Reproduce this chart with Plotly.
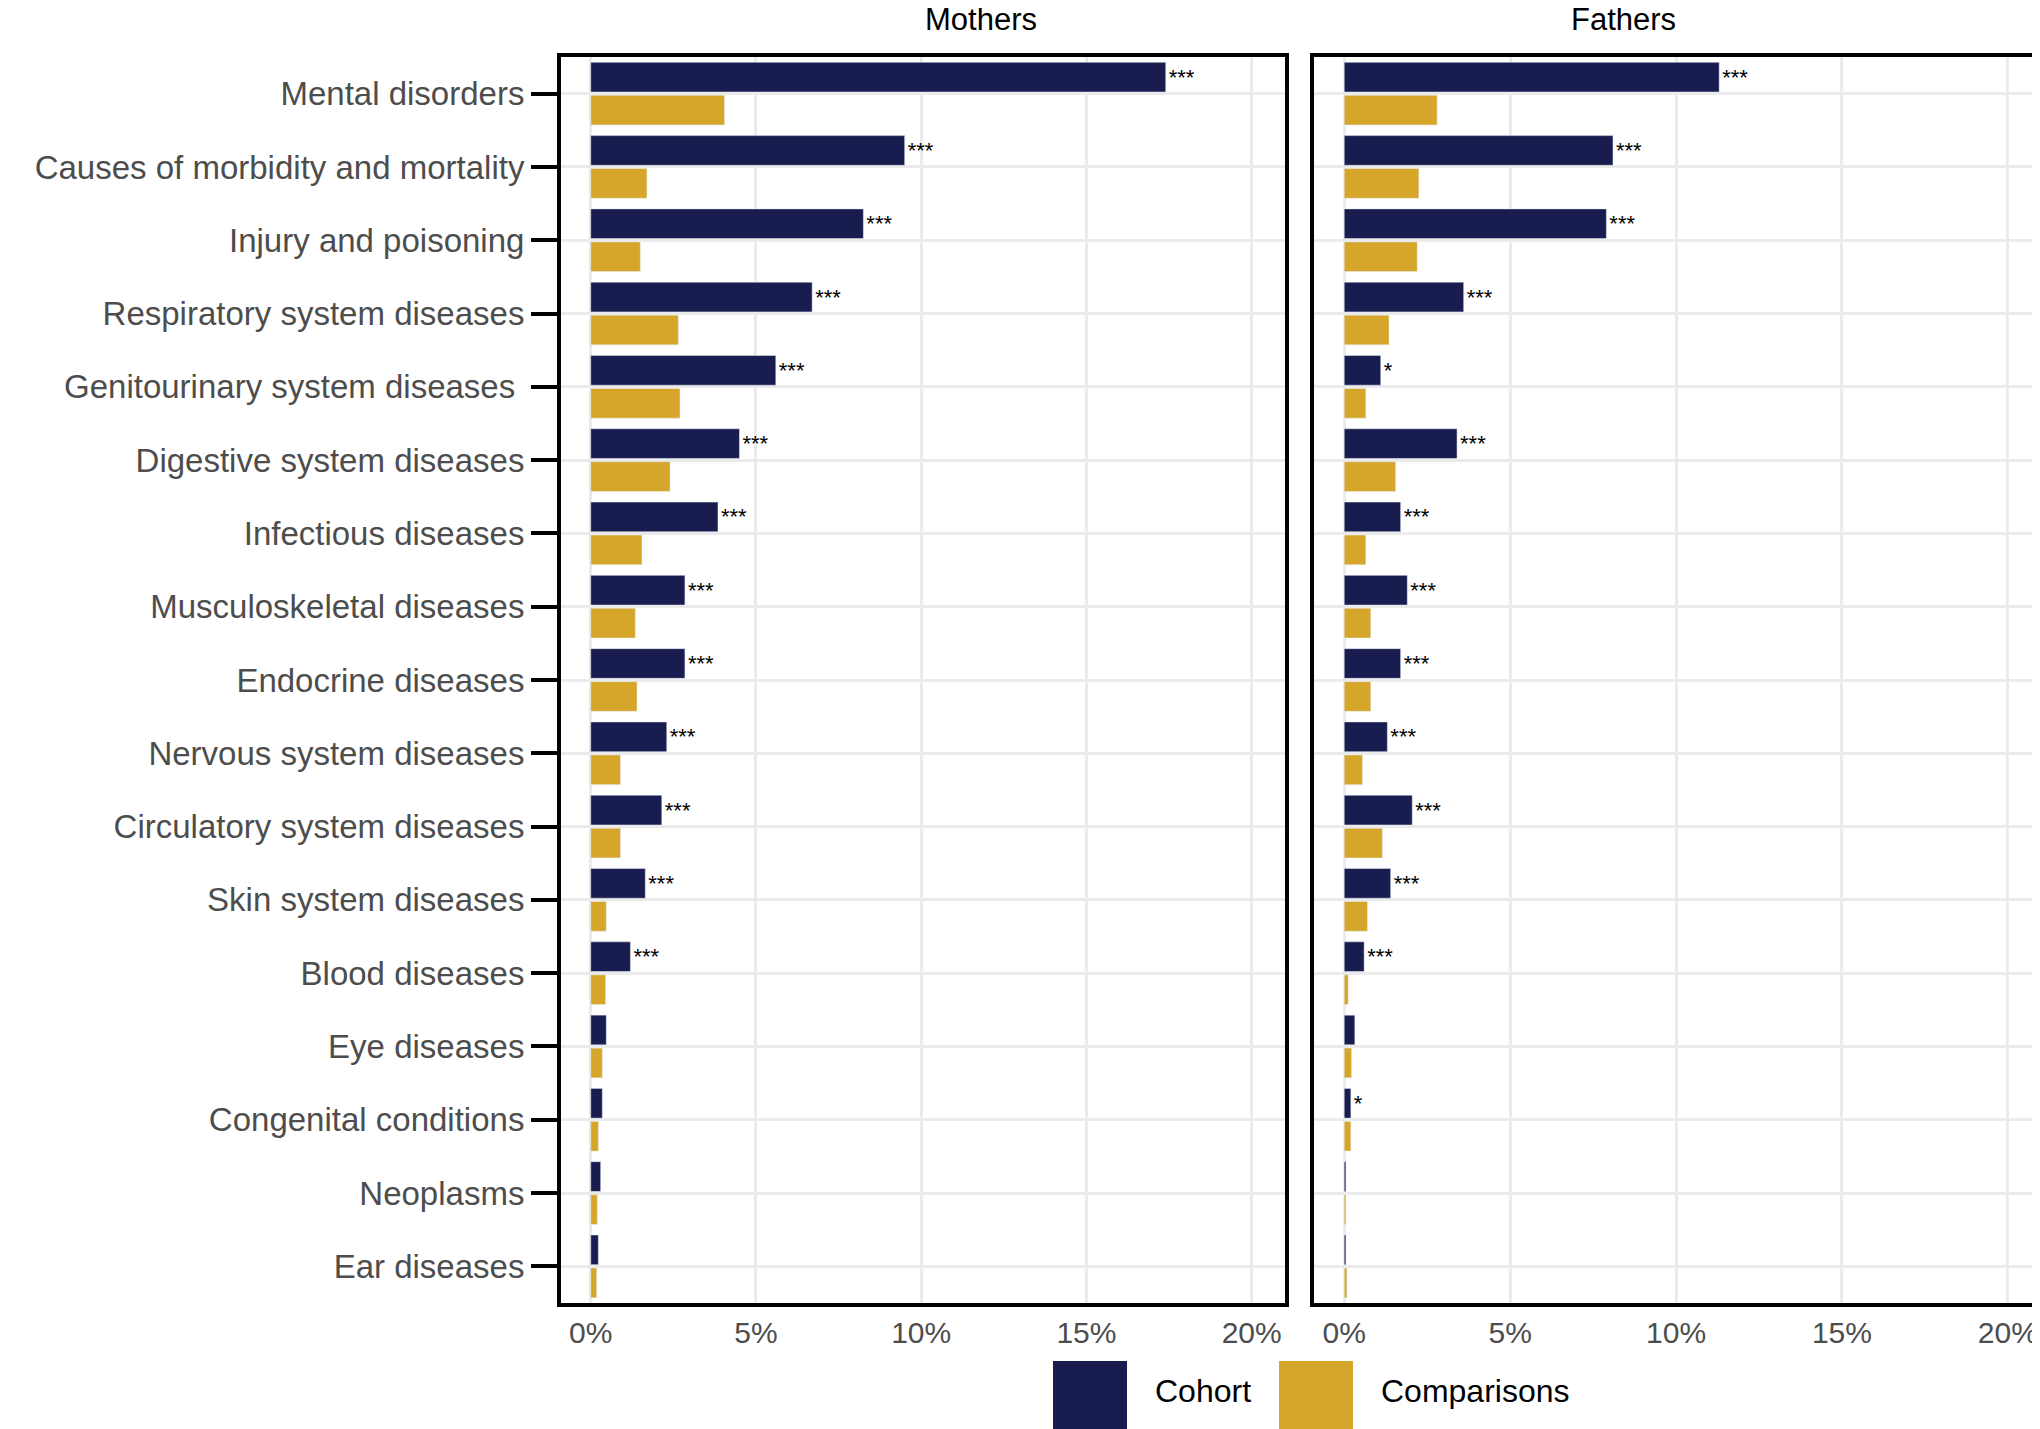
import plotly.graph_objects as go

categories = ["Mental disorders", "Causes of morbidity and mortality", "Injury and poisoning",
              "Respiratory system diseases", "Genitourinary system diseases ", "Digestive system diseases",
              "Infectious diseases", "Musculoskeletal diseases", "Endocrine diseases",
              "Nervous system diseases", "Circulatory system diseases", "Skin system diseases",
              "Blood diseases", "Eye diseases", "Congenital conditions", "Neoplasms", "Ear diseases"]

mothers_cohort = [17.4, 9.5, 8.25, 6.7, 5.6, 4.5, 3.85, 2.85, 2.85, 2.3, 2.15, 1.65, 1.2, 0.47, 0.35, 0.3, 0.23]
mothers_comp = [4.05, 1.7, 1.5, 2.65, 2.7, 2.4, 1.55, 1.35, 1.4, 0.9, 0.9, 0.47, 0.45, 0.35, 0.23, 0.2, 0.18]
mothers_sig = ["***"] * 13 + [""] * 4

fathers_cohort = [11.3, 8.1, 7.9, 3.6, 1.1, 3.4, 1.7, 1.9, 1.7, 1.3, 2.05, 1.4, 0.6, 0.32, 0.2, 0.05, 0.05]
fathers_comp = [2.8, 2.25, 2.2, 1.35, 0.65, 1.55, 0.65, 0.8, 0.8, 0.55, 1.15, 0.7, 0.12, 0.22, 0.2, 0.05, 0.08]
fathers_sig = ["***", "***", "***", "***", "*", "***", "***", "***", "***", "***", "***", "***", "***", "", "*", "", ""]

navy = "#181c4e"
gold = "#d6a62a"
grey = "#4d4d4d"
font = "Liberation Sans, Arial, sans-serif"

fig = go.Figure()
for xa, ya, coh, comp, sig in [("x", "y", mothers_cohort, mothers_comp, mothers_sig),
                               ("x2", "y2", fathers_cohort, fathers_comp, fathers_sig)]:
    fig.add_trace(go.Bar(y=categories, x=coh, orientation="h", marker_color=navy,
                         name="Cohort", xaxis=xa, yaxis=ya, showlegend=False,
                         text=sig, textposition="outside", cliponaxis=False,
                         textfont=dict(size=22, color="black", family=font),
                         constraintext="none"))
    fig.add_trace(go.Bar(y=categories, x=comp, orientation="h", marker_color=gold,
                         name="Comparisons", xaxis=xa, yaxis=ya, showlegend=False))

xcommon = dict(range=[-0.9, 21], tickvals=[0, 5, 10, 15, 20],
               ticktext=["0%", "5%", "10%", "15%", "20%"], showgrid=True,
               gridcolor="#ebebeb", gridwidth=3, zeroline=False, showline=True,
               mirror=True, linecolor="black", linewidth=4, ticks="",
               tickfont=dict(size=30, color=grey, family=font))
ycommon = dict(categoryorder="array", categoryarray=categories, autorange="reversed",
               showgrid=True, gridcolor="#ebebeb", gridwidth=3, showline=True,
               mirror=True, linecolor="black", linewidth=4)

fig.update_layout(
    width=2040, height=1429,
    margin=dict(l=553, r=4, t=49, b=134),
    paper_bgcolor="white", plot_bgcolor="white",
    barmode="group", bargap=0.1, bargroupgap=0.1,
    xaxis=dict(domain=[0, 0.488], anchor="y", **xcommon),
    xaxis2=dict(domain=[0.508, 0.998], anchor="y2", **xcommon),
    yaxis=dict(anchor="x", ticks="outside", ticklen=26, tickwidth=4, tickcolor="black",
               tickfont=dict(size=33, color=grey, family=font), **ycommon),
    yaxis2=dict(anchor="x2", showticklabels=False, ticks="", **ycommon),
    annotations=[
        dict(text="Mothers", x=0.244, y=1, xref="paper", yref="paper", yanchor="bottom",
             showarrow=False, yshift=18, font=dict(size=31, color="black", family=font)),
        dict(text="Fathers", x=0.753, y=1, xref="paper", yref="paper", yanchor="bottom",
             showarrow=False, yshift=18, font=dict(size=31, color="black", family=font)),
        dict(text="Cohort", x=1145, y=1403, xref="paper", yref="paper", showarrow=False,
             xanchor="left", font=dict(size=32, color="black", family=font)),
        dict(text="Comparisons", x=1371, y=1403, xref="paper", yref="paper", showarrow=False,
             xanchor="left", font=dict(size=32, color="black", family=font)),
    ],
)

# legend drawn in pixel coordinates (converted to paper)
pw, ph = 2040 - 557, 1429 - 183
def px(x): return (x - 553) / pw
def py(y): return (1429 - 134 - y) / ph
for a in fig.layout.annotations[2:]:
    a.x = px(a.x)
    a.y = py(a.y)
fig.add_shape(type="rect", xref="paper", yref="paper", x0=px(1045), x1=px(1119),
              y0=py(1429), y1=py(1353), fillcolor=navy, line_width=0)
fig.add_shape(type="rect", xref="paper", yref="paper", x0=px(1271), x1=px(1345),
              y0=py(1429), y1=py(1353), fillcolor=gold, line_width=0)

fig.write_html("out.html")
